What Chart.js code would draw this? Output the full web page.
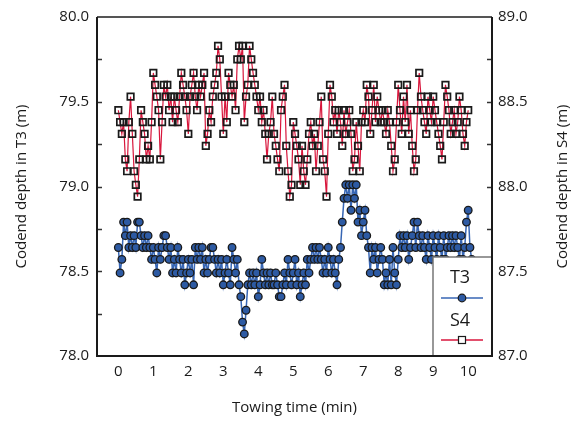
<!DOCTYPE html>
<html>
<head>
<meta charset="utf-8">
<script src="https://cdn.jsdelivr.net/npm/chart.js@4.4.1/dist/chart.umd.min.js"></script>
<style>
  html, body { margin: 0; padding: 0; background: #fff; }
  #wrap { width: 579px; height: 423px; }
</style>
</head>
<body>
<div id="wrap"><canvas id="depthChart" width="579" height="423"></canvas></div>
<script>
// one depth reading every 3 s, expressed in minutes
const SAMPLE_MIN = 0.05;

// codend depth at T3 (m), 0 – 10.1 min
const t3Depth = [
  78.64, 78.49, 78.57, 78.79, 78.71, 78.79, 78.64, 78.71, 78.64, 78.71, 78.64, 78.79, 78.79, 78.71, 78.64, 78.71, 78.64, 78.71, 78.64, 78.57,
  78.64, 78.57, 78.49, 78.64, 78.57, 78.64, 78.71, 78.71, 78.64, 78.57, 78.64, 78.49, 78.57, 78.49, 78.64, 78.57, 78.49, 78.57, 78.42, 78.49,
  78.57, 78.49, 78.57, 78.42, 78.64, 78.57, 78.64, 78.57, 78.64, 78.49, 78.57, 78.49, 78.57, 78.64, 78.64, 78.57, 78.49, 78.57, 78.49, 78.57,
  78.42, 78.49, 78.57, 78.49, 78.42, 78.64, 78.57, 78.49, 78.57, 78.42, 78.35, 78.20, 78.13, 78.27, 78.42, 78.49, 78.42, 78.49, 78.42, 78.49,
  78.35, 78.42, 78.57, 78.49, 78.42, 78.49, 78.42, 78.49, 78.42, 78.42, 78.49, 78.42, 78.35, 78.35, 78.42, 78.49, 78.42, 78.57, 78.49, 78.42,
  78.49, 78.57, 78.42, 78.49, 78.35, 78.42, 78.49, 78.42, 78.57, 78.49, 78.57, 78.64, 78.57, 78.64, 78.57, 78.64, 78.57, 78.49, 78.57, 78.49,
  78.64, 78.57, 78.49, 78.57, 78.49, 78.42, 78.57, 78.64, 78.79, 78.93, 79.01, 78.93, 79.01, 78.86, 79.01, 78.93, 79.01, 78.79, 78.86, 78.71,
  78.79, 78.86, 78.71, 78.64, 78.49, 78.64, 78.57, 78.64, 78.49, 78.57, 78.64, 78.57, 78.42, 78.49, 78.42, 78.57, 78.42, 78.64, 78.49, 78.42,
  78.57, 78.71, 78.64, 78.71, 78.64, 78.71, 78.57, 78.64, 78.71, 78.79, 78.64, 78.79, 78.71, 78.64, 78.71, 78.64, 78.57, 78.71, 78.64, 78.57,
  78.71, 78.64, 78.57, 78.71, 78.64, 78.57, 78.71, 78.57, 78.64, 78.71, 78.64, 78.71, 78.64, 78.71, 78.64, 78.57, 78.71, 78.57, 78.64, 78.79,
  78.86, 78.64, 78.57
];

// codend depth at S4 (m), 0 – 10 min
const s4Depth = [
  88.45, 88.38, 88.31, 88.38, 88.16, 88.09, 88.38, 88.53, 88.31, 88.09, 88.01, 87.94, 88.16, 88.45, 88.38, 88.31, 88.16, 88.24, 88.16, 88.38,
  88.67, 88.60, 88.53, 88.45, 88.16, 88.38, 88.60, 88.53, 88.60, 88.45, 88.53, 88.38, 88.53, 88.45, 88.38, 88.53, 88.67, 88.60, 88.53, 88.45,
  88.31, 88.53, 88.60, 88.67, 88.53, 88.45, 88.60, 88.53, 88.60, 88.67, 88.24, 88.31, 88.45, 88.38, 88.53, 88.60, 88.67, 88.83, 88.75, 88.53,
  88.31, 88.53, 88.38, 88.67, 88.60, 88.53, 88.60, 88.45, 88.75, 88.83, 88.75, 88.83, 88.38, 88.53, 88.60, 88.83, 88.75, 88.67, 88.60, 88.53,
  88.45, 88.53, 88.38, 88.45, 88.31, 88.16, 88.31, 88.38, 88.53, 88.31, 88.24, 88.16, 88.09, 88.45, 88.53, 88.60, 88.24, 88.09, 87.94, 88.01,
  88.38, 88.31, 88.24, 88.16, 88.01, 88.24, 88.09, 88.01, 88.16, 88.31, 88.38, 88.24, 88.31, 88.09, 88.24, 88.38, 88.53, 88.16, 88.09, 87.94,
  88.31, 88.60, 88.53, 88.38, 88.45, 88.31, 88.45, 88.38, 88.24, 88.45, 88.31, 88.38, 88.45, 88.31, 88.09, 88.16, 88.38, 88.24, 88.09, 88.38,
  88.45, 88.38, 88.60, 88.53, 88.31, 88.45, 88.60, 88.38, 88.53, 88.45, 88.38, 88.45, 88.38, 88.31, 88.45, 88.38, 88.24, 88.09, 88.16, 88.38,
  88.60, 88.45, 88.31, 88.53, 88.38, 88.60, 88.31, 88.45, 88.24, 88.09, 88.16, 88.45, 88.67, 88.53, 88.45, 88.38, 88.31, 88.53, 88.45, 88.38,
  88.53, 88.45, 88.38, 88.31, 88.24, 88.16, 88.38, 88.60, 88.53, 88.45, 88.31, 88.38, 88.45, 88.31, 88.38, 88.53, 88.45, 88.31, 88.24, 88.38,
  88.45
];

const timeTicks = [0, 1, 2, 3, 4, 5, 6, 7, 8, 9, 10];
const t3Ticks = [78.0, 78.5, 79.0, 79.5, 80.0];
const s4Ticks = [87.0, 87.5, 88.0, 88.5, 89.0];
const MINOR_STEP = 0.25;

const FONT = "'Open Sans', 'Noto Sans', sans-serif";
const T3_FILL = '#2d5aa3';
const T3_LINE = '#3766b4';
const S4_LINE = '#d8163c';
const INK = '#1a1a1a';

const asPoints = arr => arr.map((v, i) => ({ x: i * SAMPLE_MIN, y: v }));
const fixedTicks = list => scale => { scale.ticks = list.map(v => ({ value: v })); };

// frame, inward minor ticks, right-hand title and the boxed legend
const decorations = {
  id: 'decorations',
  afterDatasetsDraw(chart) {
    const { ctx, chartArea: a, scales } = chart;
    ctx.save();

    ctx.strokeStyle = '#333';
    ctx.lineWidth = 1.5;
    [['yT3', a.left, 1], ['yS4', a.right, -1]].forEach(([id, x0, dir]) => {
      const s = scales[id];
      for (let v = s.min + MINOR_STEP; v < s.max - 1e-6; v += MINOR_STEP) {
        const y = Math.round(s.getPixelForValue(v)) + 0.5;
        ctx.beginPath();
        ctx.moveTo(x0, y);
        ctx.lineTo(x0 + dir * 5, y);
        ctx.stroke();
      }
    });

    // legend box in the lower right corner
    const bx = a.right - 59, by = a.bottom - 99;
    ctx.fillStyle = '#fff';
    ctx.fillRect(bx, by, a.right - bx, a.bottom - by);
    ctx.strokeStyle = '#777';
    ctx.lineWidth = 1.5;
    ctx.strokeRect(bx, by, a.right - bx, a.bottom - by);

    const cx = bx + 29;
    ctx.fillStyle = INK;
    ctx.font = `18px ${FONT}`;
    ctx.textAlign = 'center';
    ctx.textBaseline = 'middle';
    ctx.fillText('T3', cx - 2, by + 21);
    ctx.fillText('S4', cx - 2, by + 64);

    ctx.lineWidth = 1.5;
    ctx.strokeStyle = T3_LINE;
    ctx.beginPath(); ctx.moveTo(bx + 8, by + 41); ctx.lineTo(bx + 50, by + 41); ctx.stroke();
    ctx.fillStyle = T3_FILL;
    ctx.strokeStyle = INK;
    ctx.lineWidth = 1.2;
    ctx.beginPath(); ctx.arc(cx, by + 41, 3.8, 0, Math.PI * 2); ctx.fill(); ctx.stroke();

    ctx.strokeStyle = S4_LINE;
    ctx.lineWidth = 1.5;
    ctx.beginPath(); ctx.moveTo(bx + 8, by + 83); ctx.lineTo(bx + 50, by + 83); ctx.stroke();
    ctx.fillStyle = '#fff';
    ctx.strokeStyle = INK;
    ctx.lineWidth = 1.2;
    ctx.fillRect(cx - 3.5, by + 79.5, 7, 7);
    ctx.strokeRect(cx - 3.5, by + 79.5, 7, 7);

    // plot frame
    ctx.strokeStyle = '#555';
    ctx.lineWidth = 2;
    ctx.beginPath(); ctx.moveTo(a.left, a.top); ctx.lineTo(a.right, a.top); ctx.stroke();
    ctx.strokeStyle = INK;
    ctx.beginPath();
    ctx.moveTo(a.left, a.top); ctx.lineTo(a.left, a.bottom);
    ctx.lineTo(a.right, a.bottom); ctx.lineTo(a.right, a.top);
    ctx.stroke();

    // right axis title, read bottom to top like the left one
    ctx.translate(chart.width - 16, (a.top + a.bottom) / 2);
    ctx.rotate(-Math.PI / 2);
    ctx.fillStyle = INK;
    ctx.font = `15px ${FONT}`;
    ctx.fillText('Codend depth in S4 (m)', 0, 0);
    ctx.restore();
  }
};

new Chart(document.getElementById('depthChart'), {
  type: 'line',
  data: {
    datasets: [
      {
        label: 'T3',
        data: asPoints(t3Depth),
        yAxisID: 'yT3',
        borderColor: T3_LINE,
        borderWidth: 1.5,
        pointStyle: 'circle',
        pointRadius: 3.8,
        pointBorderWidth: 1.3,
        pointBackgroundColor: T3_FILL,
        pointBorderColor: INK,
        tension: 0
      },
      {
        label: 'S4',
        data: asPoints(s4Depth),
        yAxisID: 'yS4',
        borderColor: S4_LINE,
        borderWidth: 1.2,
        pointStyle: 'rect',
        pointRadius: 4.6,
        pointBorderWidth: 1.7,
        pointBackgroundColor: 'rgba(255,255,255,0)',
        pointBorderColor: INK,
        tension: 0
      }
    ]
  },
  options: {
    responsive: false,
    animation: false,
    devicePixelRatio: 1,
    layout: { padding: { top: 15, left: 0, right: 0, bottom: 0 } },
    plugins: { legend: { display: false }, tooltip: { enabled: false } },
    scales: {
      x: {
        type: 'linear',
        min: -0.61,
        max: 10.68,
        afterBuildTicks: fixedTicks(timeTicks),
        afterFit: s => { s.height = 67; },
        grid: { display: false, drawTicks: false },
        border: { display: false },
        ticks: { color: INK, padding: 7, font: { family: FONT, size: 15 } },
        title: {
          display: true,
          text: 'Towing time (min)',
          color: INK,
          font: { family: FONT, size: 15 },
          padding: { top: 0, bottom: 6 }
        }
      },
      yT3: {
        position: 'left',
        min: 78,
        max: 80,
        afterBuildTicks: fixedTicks(t3Ticks),
        afterFit: s => { s.width = 97; },
        grid: { display: false, drawTicks: false },
        border: { display: false },
        ticks: { color: INK, padding: 8, font: { family: FONT, size: 15 }, callback: v => v.toFixed(1) },
        title: {
          display: true,
          text: 'Codend depth in T3 (m)',
          color: INK,
          font: { family: FONT, size: 15 },
          padding: { top: 13, bottom: 0 }
        }
      },
      yS4: {
        position: 'right',
        min: 87,
        max: 89,
        afterBuildTicks: fixedTicks(s4Ticks),
        afterFit: s => { s.width = 87; },
        grid: { display: false, drawTicks: false },
        border: { display: false },
        ticks: { color: INK, padding: 6, font: { family: FONT, size: 15 }, callback: v => v.toFixed(1) }
      }
    }
  },
  plugins: [decorations]
});
</script>
</body>
</html>
